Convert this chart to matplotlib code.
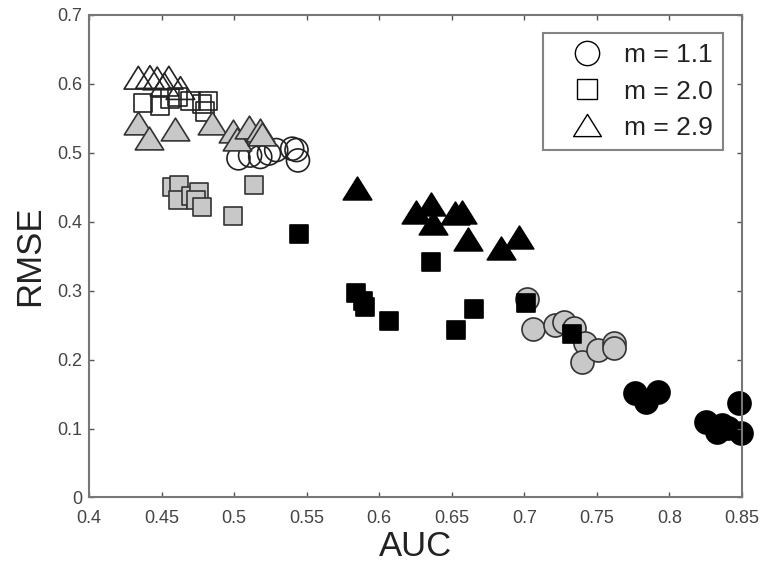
import matplotlib
matplotlib.use("Agg")
import matplotlib.pyplot as plt
from matplotlib.lines import Line2D
from matplotlib.path import Path

plt.rcParams['font.family'] = ['Liberation Sans', 'DejaVu Sans']

# m = 1.1 (circles)
auc_c_open = [0.503, 0.511, 0.518, 0.524, 0.529, 0.540, 0.543, 0.544]
rmse_c_open = [0.492, 0.496, 0.494, 0.499, 0.504, 0.506, 0.504, 0.489]
auc_c_gray = [0.702, 0.706, 0.721, 0.727, 0.734, 0.742, 0.740, 0.751, 0.762, 0.762]
rmse_c_gray = [0.288, 0.244, 0.250, 0.254, 0.246, 0.224, 0.196, 0.214, 0.224, 0.217]
auc_c_black = [0.776, 0.784, 0.792, 0.825, 0.833, 0.840, 0.836, 0.848, 0.849]
rmse_c_black = [0.151, 0.138, 0.153, 0.109, 0.095, 0.101, 0.105, 0.137, 0.093]

# m = 2.0 (squares)
auc_s_open = [0.437, 0.449, 0.456, 0.461, 0.470, 0.478, 0.482, 0.480]
rmse_s_open = [0.572, 0.568, 0.579, 0.581, 0.575, 0.571, 0.575, 0.560]
auc_s_gray = [0.457, 0.462, 0.461, 0.470, 0.476, 0.474, 0.478, 0.514, 0.499]
rmse_s_gray = [0.451, 0.454, 0.431, 0.438, 0.443, 0.431, 0.421, 0.453, 0.408]
auc_s_black = [0.545, 0.636, 0.584, 0.589, 0.590, 0.607, 0.653, 0.665, 0.701, 0.733]
rmse_s_black = [0.382, 0.341, 0.296, 0.285, 0.276, 0.256, 0.243, 0.273, 0.282, 0.237]

# m = 2.9 (triangles)
auc_t_open = [0.434, 0.442, 0.447, 0.455, 0.452, 0.463]
rmse_t_open = [0.609, 0.610, 0.608, 0.609, 0.599, 0.594]
auc_t_gray = [0.434, 0.441, 0.459, 0.485, 0.499, 0.502, 0.510, 0.518, 0.519]
rmse_t_gray = [0.544, 0.522, 0.535, 0.544, 0.531, 0.520, 0.538, 0.533, 0.528]
auc_t_black = [0.5845, 0.625, 0.636, 0.637, 0.652, 0.657, 0.661, 0.684, 0.696]
rmse_t_black = [0.449, 0.414, 0.426, 0.398, 0.412, 0.414, 0.375, 0.362, 0.378]

legend_labels = ['m = 1.1', 'm = 2.0', 'm = 2.9']
x_ticks = [0.4, 0.45, 0.5, 0.55, 0.6, 0.65, 0.7, 0.75, 0.8, 0.85]
x_ticklabels = ['0.4', '0.45', '0.5', '0.55', '0.6', '0.65', '0.7', '0.75', '0.8', '0.85']
y_ticks = [0, 0.1, 0.2, 0.3, 0.4, 0.5, 0.6, 0.7]
y_ticklabels = ['0', '0.1', '0.2', '0.3', '0.4', '0.5', '0.6', '0.7']

GRAY = '#c8c8c8'
# triangle a bit wider than tall, closed so the outline is complete
tri = Path([(-1, -0.8), (1, -0.8), (0, 0.8), (-1, -0.8)], closed=True)
sizes = {'o': 275, 's': 175, 'tri': 420}

fig = plt.figure(figsize=(7.62, 5.67), dpi=100)
ax = fig.add_axes([0.1168, 0.1226, 0.857, 0.851])

groups = [
    (auc_c_open, rmse_c_open, 'o', 'none', '#222222'),
    (auc_c_gray, rmse_c_gray, 'o', GRAY, '#333333'),
    (auc_c_black, rmse_c_black, 'o', 'black', 'black'),
    (auc_s_open, rmse_s_open, 's', 'none', '#222222'),
    (auc_s_gray, rmse_s_gray, 's', GRAY, '#333333'),
    (auc_s_black, rmse_s_black, 's', 'black', 'black'),
    (auc_t_open, rmse_t_open, 'tri', 'none', '#222222'),
    (auc_t_gray, rmse_t_gray, 'tri', GRAY, '#333333'),
    (auc_t_black, rmse_t_black, 'tri', 'black', 'black'),
]
for x, y, mk, fc, ec in groups:
    marker = tri if mk == 'tri' else mk
    ax.scatter(x, y, s=sizes[mk], marker=marker, facecolors=fc,
               edgecolors=ec, linewidths=1.2, clip_on=False)

ax.set_xlim(0.4, 0.85)
ax.set_ylim(0, 0.7)
ax.set_xticks(x_ticks)
ax.set_xticklabels(x_ticklabels)
ax.set_yticks(y_ticks)
ax.set_yticklabels(y_ticklabels)
ax.tick_params(direction='in', length=3.5, width=1, top=True, right=True,
               labelsize=13, labelcolor='#444444', color='#555555')
ax.tick_params(axis='x', pad=9)
ax.tick_params(axis='y', pad=5)
for sp in ax.spines.values():
    sp.set_color('#777777')
    sp.set_linewidth(1.5)

ax.set_xlabel('AUC', fontsize=25, color='#222222', labelpad=2)
ax.set_ylabel('RMSE', fontsize=25, color='#222222', labelpad=8)

handles = [
    Line2D([], [], linestyle='none', marker='o', markersize=17.5,
           markerfacecolor='white', markeredgecolor='black', markeredgewidth=1.0),
    Line2D([], [], linestyle='none', marker='s', markersize=14,
           markerfacecolor='white', markeredgecolor='black', markeredgewidth=1.0),
    Line2D([], [], linestyle='none', marker=tri, markersize=20,
           markerfacecolor='white', markeredgecolor='black', markeredgewidth=1.0),
]
leg = ax.legend(handles, legend_labels, loc='upper right',
                bbox_to_anchor=(0.971, 0.963), borderaxespad=0,
                fontsize=19, frameon=True, fancybox=False,
                borderpad=0.4, handlelength=2.55, handletextpad=0.1,
                labelspacing=0.46)
leg.get_frame().set_edgecolor('#666666')
leg.get_frame().set_linewidth(1.5)
for t in leg.get_texts():
    t.set_color('#222222')

fig.savefig('out.png', dpi=100)
